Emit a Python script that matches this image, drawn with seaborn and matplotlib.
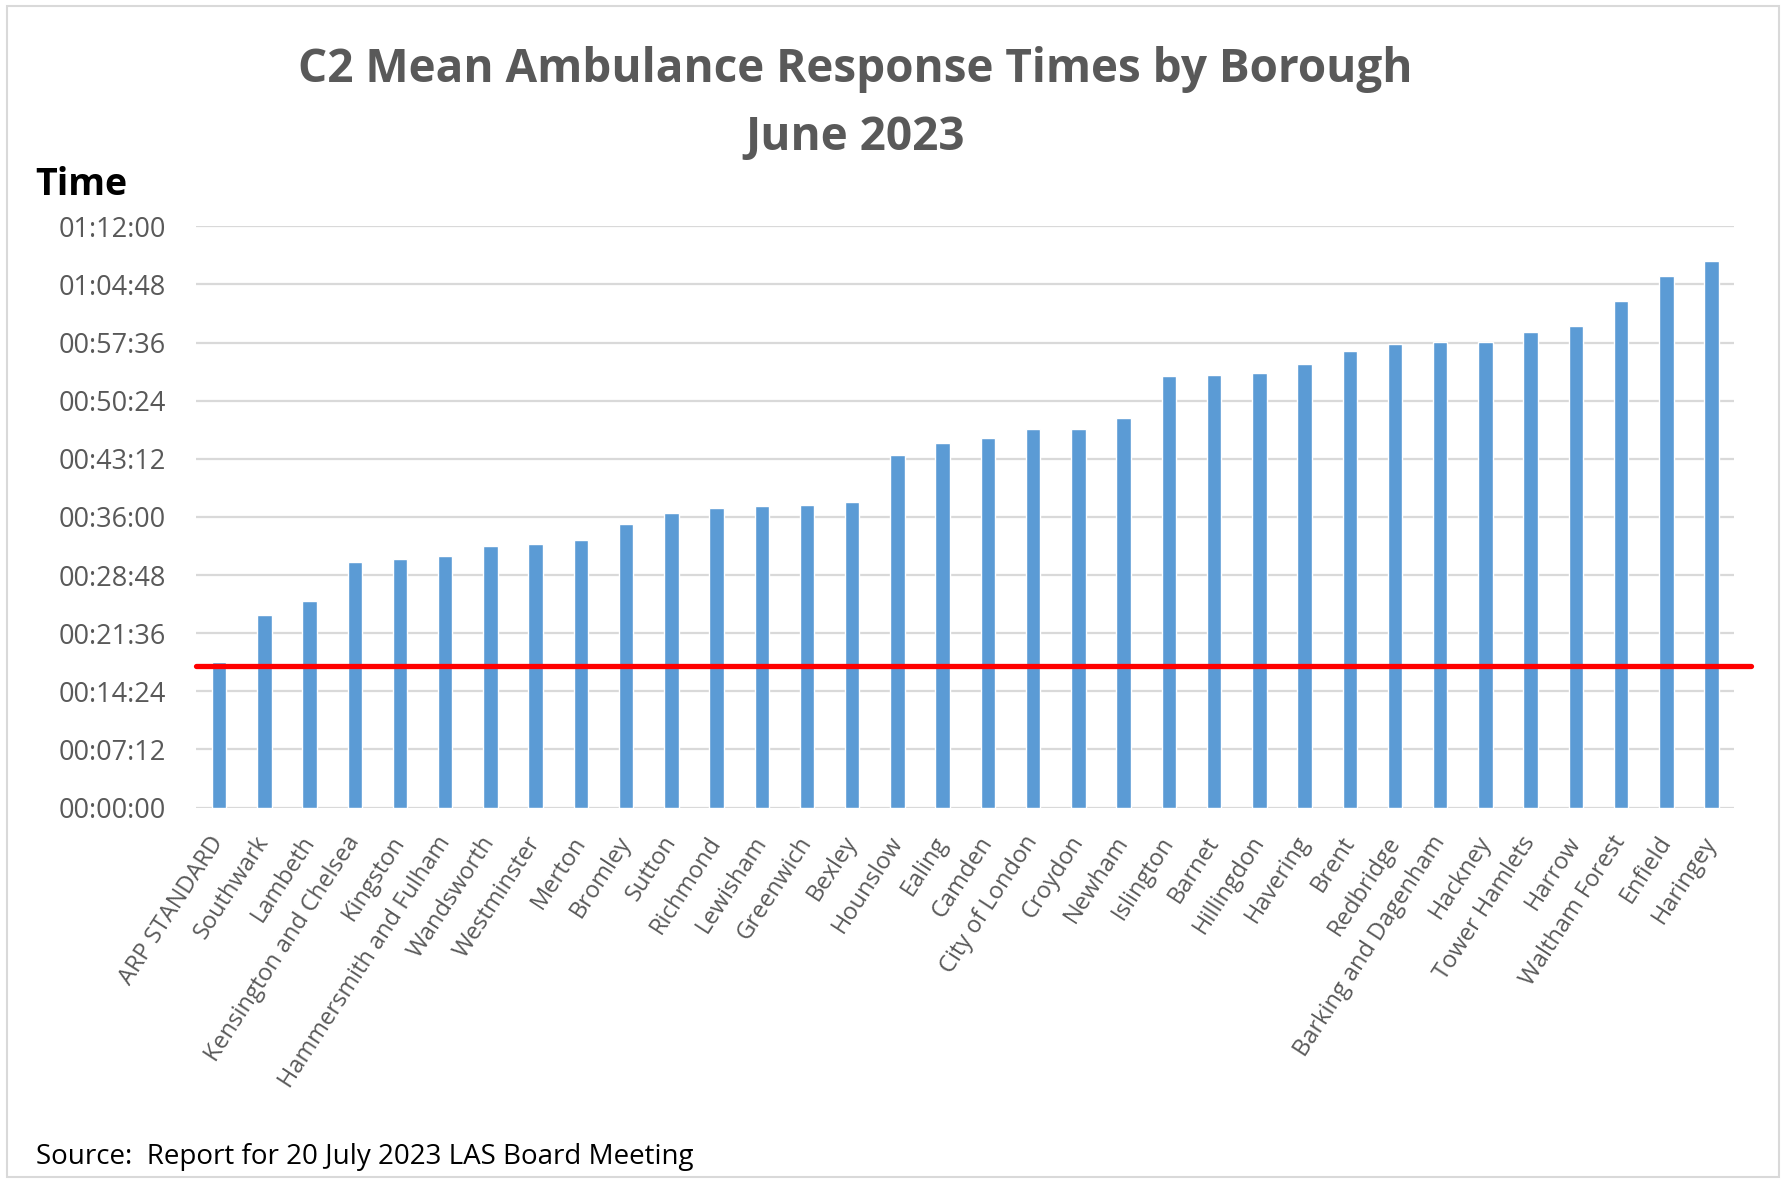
import matplotlib
matplotlib.use('Agg')
import matplotlib.pyplot as plt
import matplotlib.ticker as mticker
from matplotlib.patches import Rectangle
import seaborn as sns
import pandas as pd

# Data (mean C2 response, minutes)
boroughs = ['ARP STANDARD', 'Southwark', 'Lambeth', 'Kensington and Chelsea', 'Kingston',
            'Hammersmith and Fulham', 'Wandsworth', 'Westminster', 'Merton', 'Bromley',
            'Sutton', 'Richmond', 'Lewisham', 'Greenwich', 'Bexley', 'Hounslow', 'Ealing',
            'Camden', 'City of London', 'Croydon', 'Newham', 'Islington', 'Barnet',
            'Hillingdon', 'Havering', 'Brent', 'Redbridge', 'Barking and Dagenham',
            'Hackney', 'Tower Hamlets', 'Harrow', 'Waltham Forest', 'Enfield', 'Haringey']
mean_minutes = [18.0, 23.9, 25.6, 30.4, 30.8, 31.2, 32.4, 32.7, 33.2, 35.1,
                36.5, 37.1, 37.4, 37.5, 37.9, 43.7, 45.2, 45.8, 46.9, 46.9,
                48.3, 53.5, 53.6, 53.8, 55.0, 56.5, 57.4, 57.7, 57.7, 58.9,
                59.6, 62.7, 65.9, 67.7]
arp_line = 17.5
tick_minutes = [0, 7.2, 14.4, 21.6, 28.8, 36.0, 43.2, 50.4, 57.6, 64.8, 72.0]

df = pd.DataFrame({'borough': boroughs, 'minutes': mean_minutes})

sns.set_style('white')
plt.rcParams['font.family'] = ['Open Sans', 'DejaVu Sans']

fig = plt.figure(figsize=(17.86, 11.79), dpi=100)
ax = fig.add_axes([0.110, 0.315, 0.861, 0.493])

sns.barplot(data=df, x='borough', y='minutes', color='#5B9BD5', saturation=1,
            width=0.32, ax=ax, zorder=2)

# red ARP standard line, runs a little past the plot
ax.axhline(arp_line, xmin=0, xmax=1.011, color='#FF0000', lw=3.8,
           clip_on=False, zorder=3)


def hms(v, pos):
    s = int(round(v * 60))
    return f'{s // 3600:02d}:{(s % 3600) // 60:02d}:{s % 60:02d}'


ax.set_ylim(0, 72)
ax.set_xlim(-0.5, len(boroughs) - 0.5)
ax.set_yticks(tick_minutes)
ax.yaxis.set_major_formatter(mticker.FuncFormatter(hms))
ax.yaxis.grid(True, color='#D9D9D9', linewidth=1.6)
ax.set_axisbelow(True)
for s in ['top', 'right', 'left', 'bottom']:
    ax.spines[s].set_visible(False)
ax.tick_params(axis='y', length=0, pad=22, labelsize=19.5, labelcolor='#595959')
ax.tick_params(axis='x', length=0, pad=22, labelsize=17, labelcolor='#595959')
ax.set_xlabel('')
ax.set_ylabel('')
plt.setp(ax.get_xticklabels(), rotation=57, ha='right', va='center',
         rotation_mode='anchor')

# titles and notes
fig.text(0.479, 0.941, 'C2 Mean Ambulance Response Times by Borough', ha='center',
         va='center', fontsize=33, fontweight='bold', color='#595959')
fig.text(0.479, 0.883, 'June 2023', ha='center', va='center', fontsize=33,
         fontweight='bold', color='#595959')
fig.text(0.020, 0.843, 'Time', ha='left', va='center', fontsize=27,
         fontweight='bold', color='black')
fig.text(0.020, 0.019, 'Source:  Report for 20 July 2023 LAS Board Meeting',
         ha='left', va='center', fontsize=20, color='black')

# chart frame
fig.patches.append(Rectangle((0.004, 0.002), 0.992, 0.993, transform=fig.transFigure,
                             fill=False, edgecolor='#D9D9D9', lw=1.5))

fig.savefig('out.png', dpi=100)
